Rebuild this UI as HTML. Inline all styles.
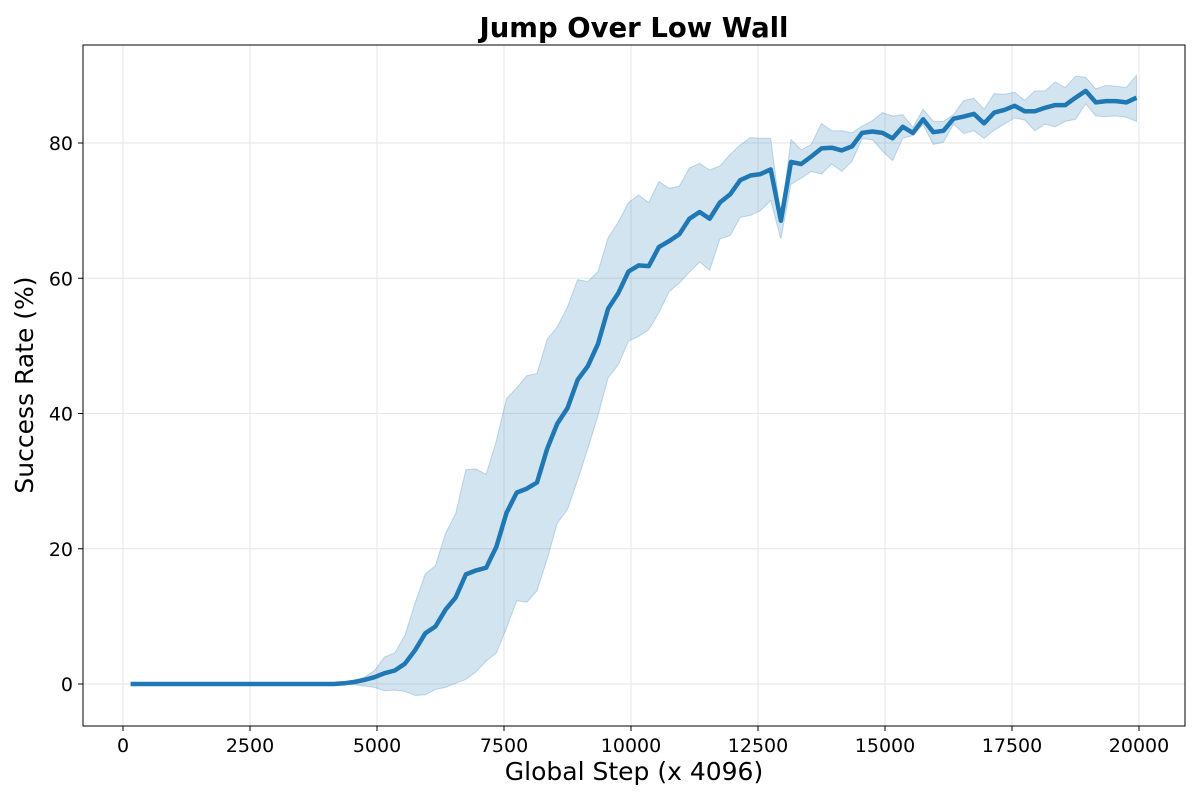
<!DOCTYPE html>
<html><head><meta charset="utf-8"><style>
body{margin:0;background:#fff;}
svg text{font-family:"DejaVu Sans","Liberation Sans",sans-serif;fill:#000;}
</style></head><body>
<svg id="chart" width="1200" height="800" xmlns="http://www.w3.org/2000/svg">
<rect width="1200" height="800" fill="#fff"/>
<text x="634" y="37" font-size="27.5" font-weight="bold" text-anchor="middle">Jump Over Low Wall</text>
<g id="grid"></g><g id="band"></g><g id="line"></g>
<rect x="83" y="45" width="1102" height="681" fill="none" stroke="#000" stroke-width="1"/>
<g id="ticks"></g>
<text x="634" y="780" font-size="25" text-anchor="middle">Global Step (x 4096)</text>
<text transform="translate(33,385) rotate(-90)" font-size="25" text-anchor="middle">Success Rate (%)</text>
</svg>
<script>
const stepStart = 150;
const stepInterval = 200;
const leadingZeros = 21;
const meanTail = [0.1,0.3,0.6,1.0,1.6,2.0,3.0,5.0,7.5,8.5,11,12.8,16.2,16.8,17.2,20.3,25.3,28.3,28.9,29.8,34.8,38.5,40.8,45,47,50.3,55.5,57.8,61,61.9,61.8,64.6,65.5,66.5,68.8,69.8,68.8,71.2,72.4,74.5,75.2,75.4,76.1,68.5,77.2,76.9,78,79.2,79.3,78.9,79.5,81.5,81.7,81.5,80.7,82.4,81.5,83.5,81.6,81.8,83.6,83.9,84.3,82.9,84.5,84.9,85.5,84.7,84.7,85.2,85.6,85.6,86.7,87.7,86,86.2,86.2,86,86.7];
const upperTail = [0.2,0.5,1.0,2.0,4,4.6,7.2,12,16.3,17.5,22.3,25.2,31.7,31.8,31,36,42.2,43.8,45.6,45.9,51,52.8,55.8,59.8,59.5,61,66,68.3,71.2,72.3,71.2,74.3,73.3,73.6,76.3,77,76,76.6,78.3,79.7,80.8,80.7,80.7,69,80.5,79,79.8,82.9,81.8,81.8,81.5,82.5,83.3,84.5,84,84.2,82.3,85,83.2,83.2,84.2,86.3,86.6,85,87.3,87.2,87.5,86.3,87.7,87.7,89,88.2,89.9,89.7,88,88.5,88.4,88.2,90];
const lowerTail = [-0.1,-0.1,-0.3,-0.5,-1,-0.9,-1.1,-1.7,-1.6,-0.8,-0.5,0.1,0.7,1.8,3.4,4.6,8.3,12.3,12.1,13.8,18.5,23.8,25.8,30.2,34.8,39.7,45.3,47.2,50.7,51.4,52.4,54.9,58,59.3,60.9,62.4,61.2,65.8,66.3,69,69.3,70,71.5,65.8,73.9,74.8,75.8,75.4,76.9,75.8,77.3,80.6,80.5,78.8,77.4,80.7,81.1,82.7,79.8,80.1,82.8,81.4,81.8,80.7,81.9,82.8,83.7,83.4,81.8,82.8,82.4,83.2,83.5,85.8,84,83.9,84,83.8,83.2];
const xTicks = [0,2500,5000,7500,10000,12500,15000,17500,20000];
const yTicks = [0,20,40,60,80];

const zeros = new Array(leadingZeros).fill(0);
const mean = zeros.concat(meanTail), upper = zeros.concat(upperTail), lower = zeros.concat(lowerTail);
const xS = v => 123 + v*(1139-123)/20000;
const yS = v => 684 - v*(684-143)/80;
const NS='http://www.w3.org/2000/svg';
function mk(tag, parent, attrs){const e=document.createElementNS(NS,tag);for(const k in attrs)e.setAttribute(k,attrs[k]);document.getElementById(parent).appendChild(e);return e;}
xTicks.forEach(t=>{
  const g=mk('line','grid',{x1:xS(t),x2:xS(t),y1:45,y2:726,stroke:'#e6e6e6','stroke-width':1});
  
  
  const tk=mk('line','ticks',{x1:xS(t),x2:xS(t),y1:726,y2:731,stroke:'#000'});
  
  
  const tx=mk('text','ticks',{x:xS(t),y:752,'font-size':19,'text-anchor':'middle'});
  tx.textContent=t;
  
  
});
yTicks.forEach(t=>{
  const g=mk('line','grid',{x1:83,x2:1185,y1:yS(t),y2:yS(t),stroke:'#e6e6e6','stroke-width':1});
  
  
  const tk=mk('line','ticks',{x1:78,x2:83,y1:yS(t),y2:yS(t),stroke:'#000'});
  
  
  const tx=mk('text','ticks',{x:73,y:yS(t)+7,'font-size':19,'text-anchor':'end'});
  tx.textContent=t;
  
  
});
const n=mean.length;
const xs=i=>xS(stepStart+i*stepInterval);
let d='';
for(let i=0;i<n;i++) d+=(i?'L':'M')+xs(i).toFixed(1)+','+yS(upper[i]).toFixed(1);
for(let i=n-1;i>=0;i--) d+='L'+xs(i).toFixed(1)+','+yS(lower[i]).toFixed(1);
d+='Z';
const band=mk('path','band',{d:d,fill:'rgba(31,119,180,0.2)',stroke:'rgba(31,119,180,0.25)','stroke-width':1});


let ld='';
for(let i=0;i<n;i++) ld+=(i?'L':'M')+xs(i).toFixed(1)+','+yS(mean[i]).toFixed(1);
const ln=mk('path','line',{d:ld,fill:'none',stroke:'#1f77b4','stroke-width':4.5,'stroke-linejoin':'round'});


</script>
</body></html>
